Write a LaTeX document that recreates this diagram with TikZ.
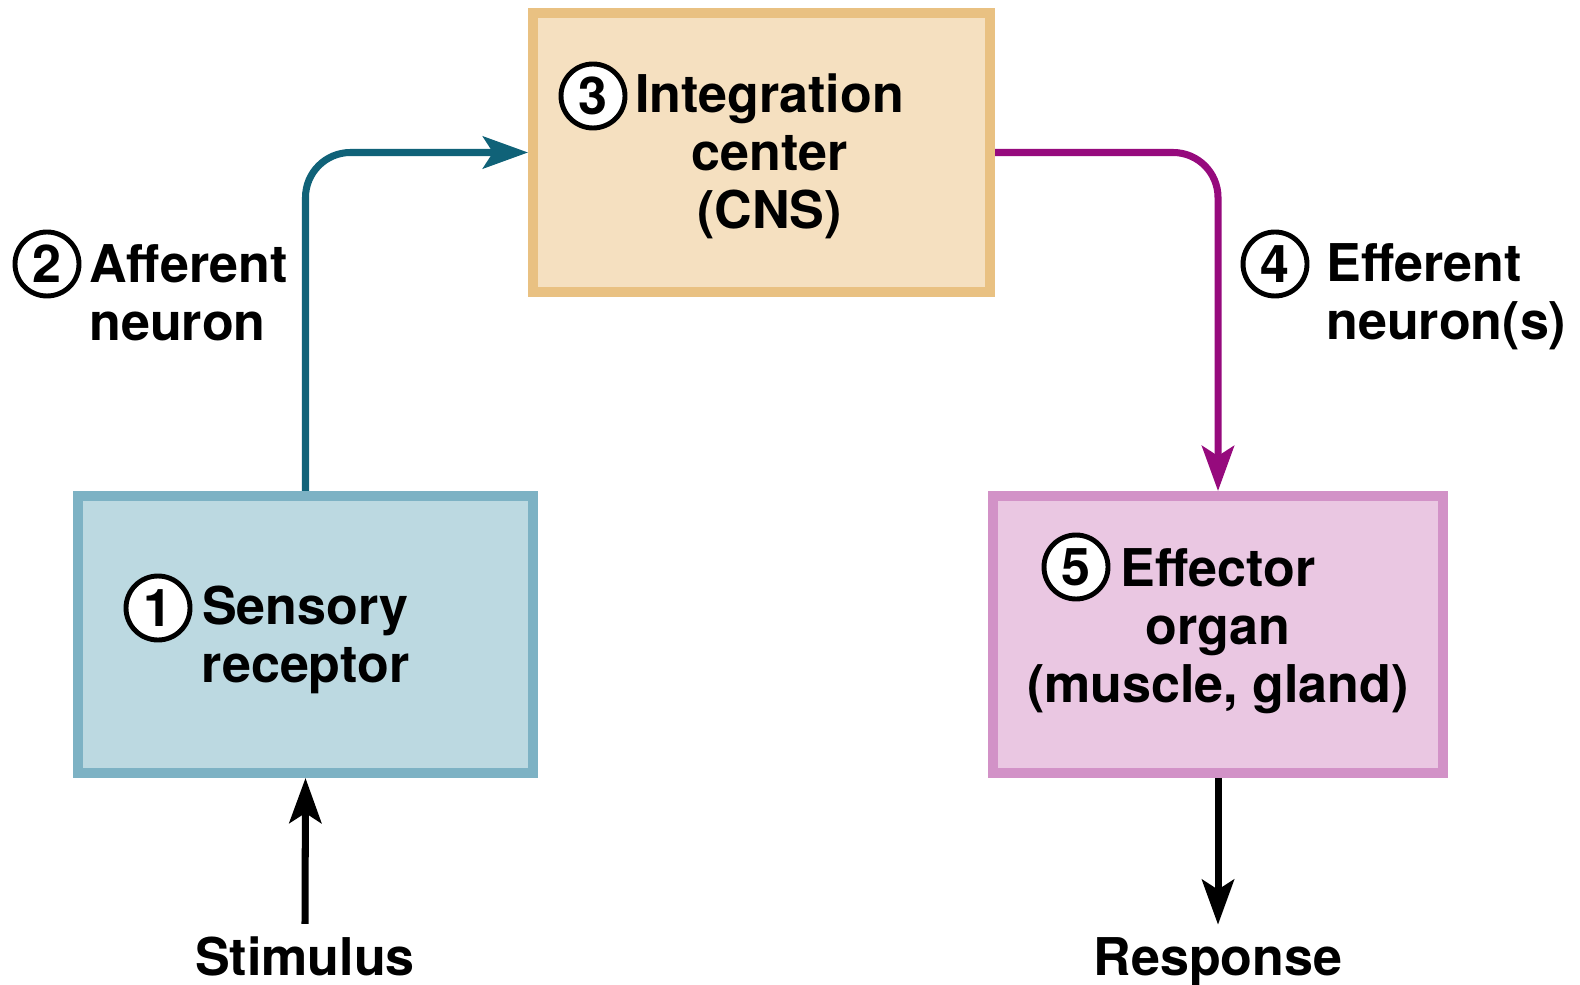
\documentclass[tikz,border=0pt]{standalone}
\usepackage{fontspec}
\setmainfont{TeX Gyre Heros}
\usetikzlibrary{arrows.meta}

\definecolor{sensfill}{RGB}{188,217,225}
\definecolor{sensline}{RGB}{125,178,196}
\definecolor{intfill}{RGB}{245,224,192}
\definecolor{intline}{RGB}{233,193,130}
\definecolor{efffill}{RGB}{234,199,226}
\definecolor{effline}{RGB}{210,146,199}
\definecolor{affcol}{RGB}{16,98,120}
\definecolor{effcol}{RGB}{150,10,125}

\newcommand{\lblfont}{\fontsize{14.8}{16.5}\selectfont\bfseries}

\tikzset{
  box/.style={draw, line width=0.1cm, minimum width=4.55cm, minimum height=2.77cm},
  boxtext/.style={font=\lblfont, align=center},
  numcirc/.style={circle, draw, line width=1.4pt, fill=white, minimum size=0.64cm,
                  inner sep=0pt, font=\lblfont},
  lbl/.style={font=\lblfont, align=left},
  conn/.style={line width=2pt, rounded corners=0.45cm,
               -{Stealth[length=0.45cm,width=0.32cm,inset=0.1cm]}}
}

\begin{document}
\begin{tikzpicture}
  \fill[white] (0,0) rectangle (15.8,-9.85);
  \useasboundingbox (0,0) rectangle (15.8,-9.85);

  % the three boxes
  \node[box, fill=sensfill, draw=sensline] (sens) at (3.055,-6.345) {};
  \node[box, fill=intfill, draw=intline, minimum width=4.57cm, minimum height=2.79cm]
    (integ) at (7.615,-1.525) {};
  \node[box, fill=efffill, draw=effline, minimum width=4.5cm]
    (effect) at (12.18,-6.345) {};

  % box texts
  \node[boxtext] (senstext) at (3.055,-6.395) {Sensory\\receptor};
  \node[boxtext] (inttext) at (7.695,-1.565) {Integration\\center\\(CNS)};
  \node[boxtext] (efftext) at (12.18,-6.315) {Effector\\organ\\(muscle, gland)};

  % circled numbers
  \node[numcirc] (n1) at (1.58,-6.08) {1};
  \node[numcirc] (n2) at (0.47,-2.64) {2};
  \node[numcirc] (n3) at (5.93,-0.96) {3};
  \node[numcirc] (n4) at (12.75,-2.64) {4};
  \node[numcirc] (n5) at (10.76,-5.67) {5};

  % neuron labels
  \node[lbl, anchor=west] (afflbl) at (0.77,-2.93) {Afferent\\neuron};
  \node[lbl, anchor=west] (efflbl) at (13.14,-2.97) {Efferent\\neuron(s)};

  % stimulus and response
  \node[lbl, anchor=base] (stim) at (3.05,-9.75) {Stimulus};
  \node[lbl, anchor=base] (resp) at (12.18,-9.75) {Response};

  \draw[conn, affcol] (sens.north) |- (integ.west);
  \draw[conn, effcol] (integ.east) -| (effect.north);
  \draw[conn] (stim.north) -- (sens.south);
  \draw[conn] (effect.south) -- (resp.north);

\end{tikzpicture}
\end{document}
